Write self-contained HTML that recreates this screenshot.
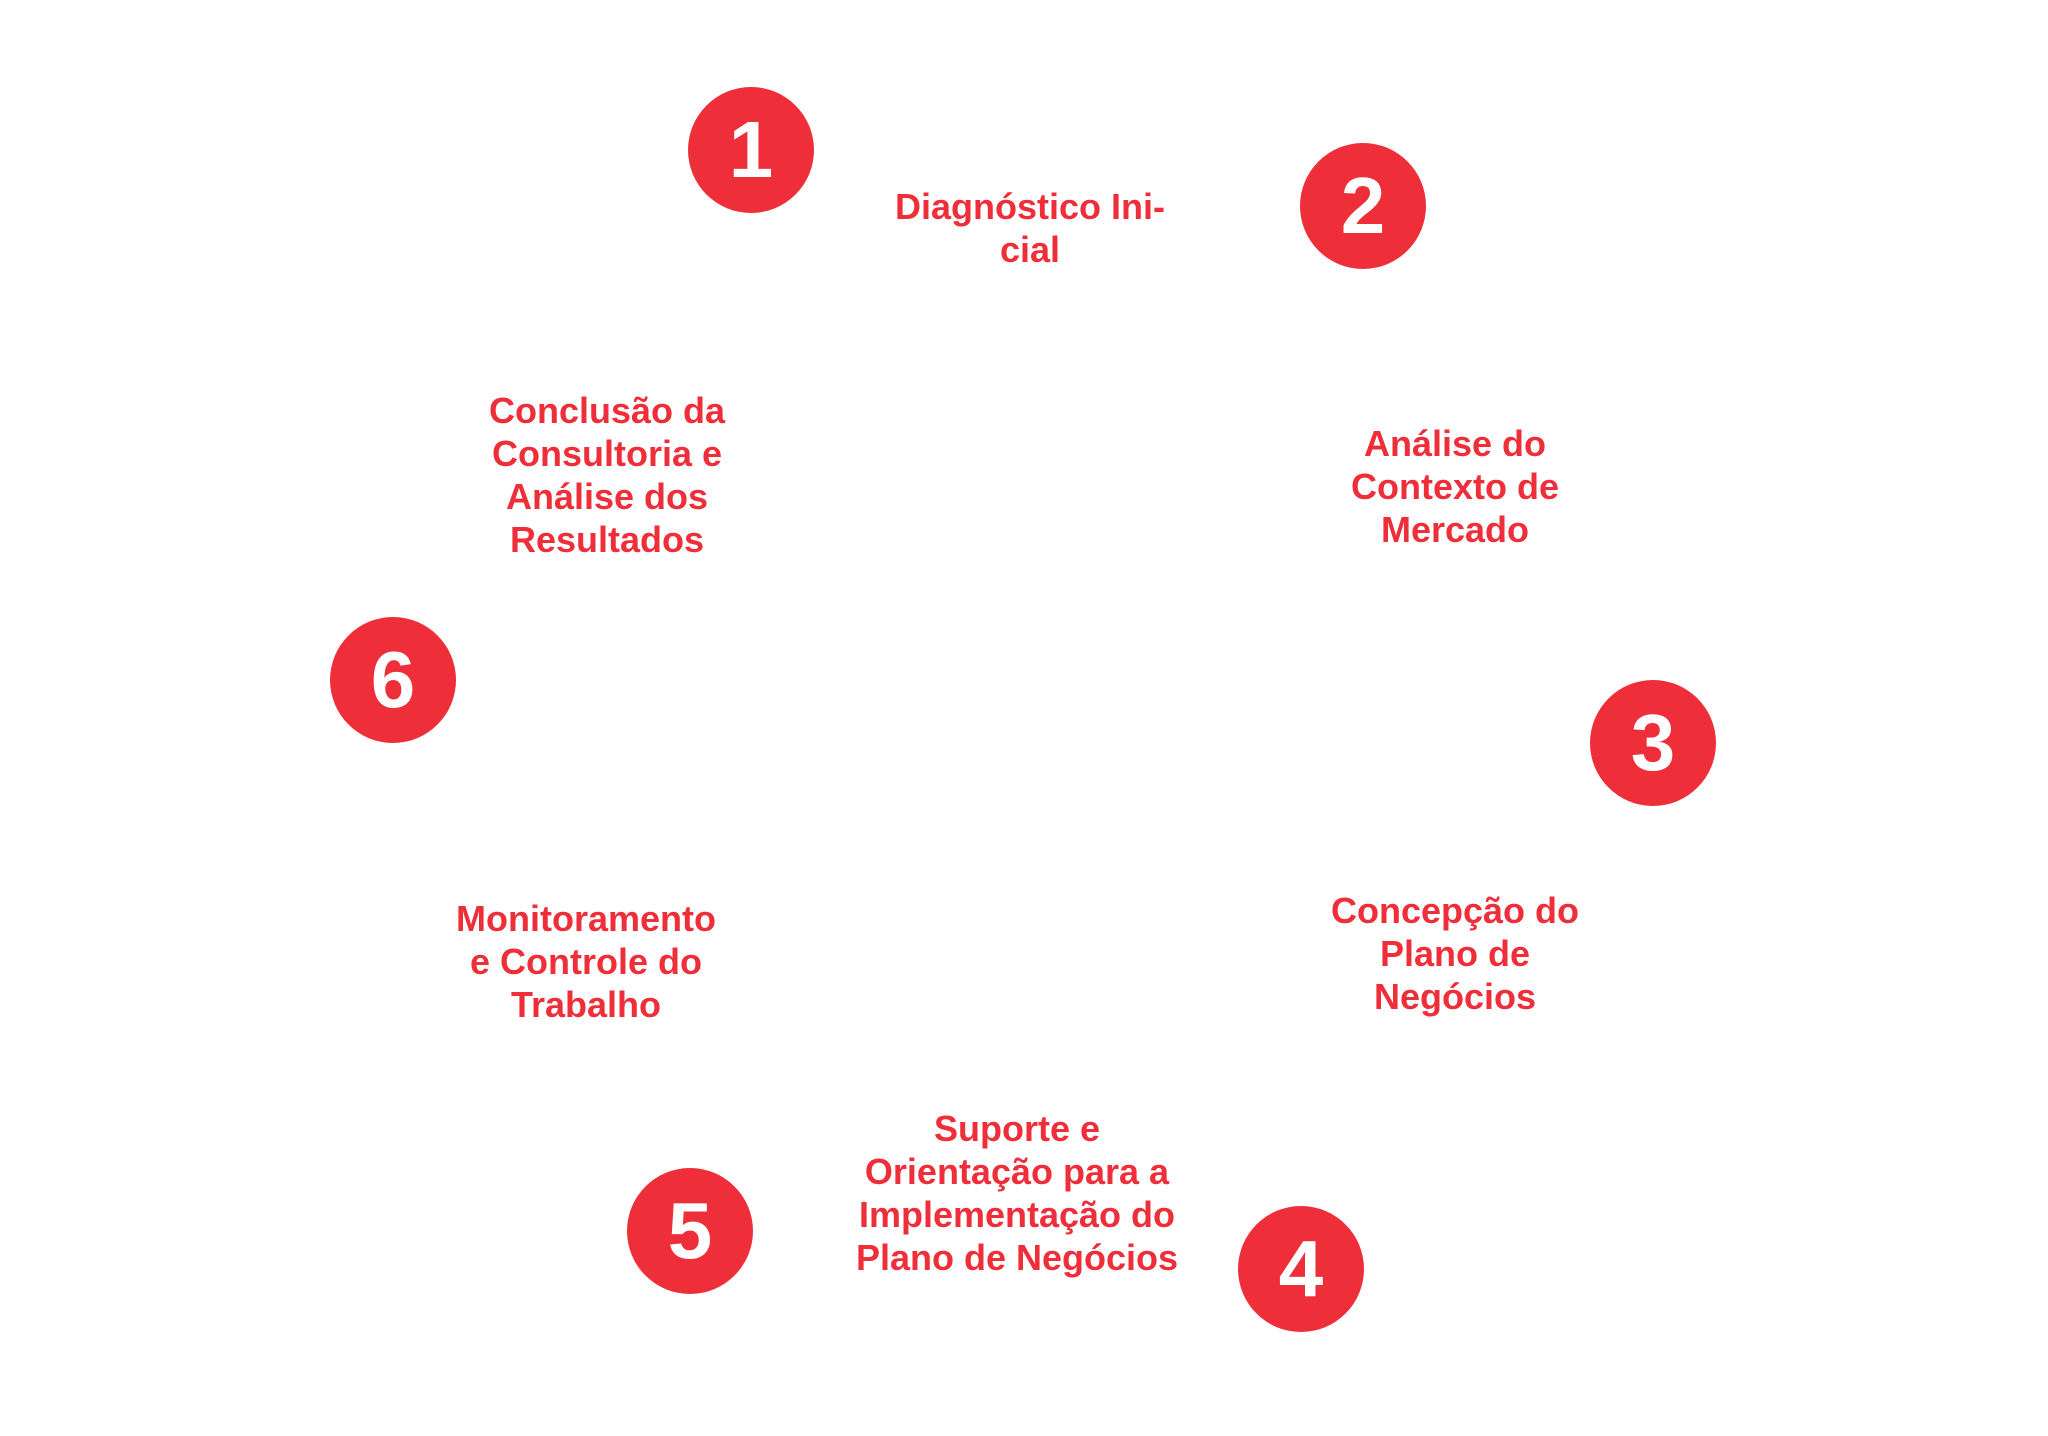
<!DOCTYPE html>
<html><head><meta charset="utf-8"><style>
html,body{margin:0;padding:0;background:#fff;}
body{width:2048px;height:1436px;position:relative;overflow:hidden;font-family:"Liberation Sans",Arial,sans-serif;}
.c{position:absolute;width:126px;height:126px;border-radius:50%;background:#ee2e39;color:#fff;font-weight:bold;font-size:80px;line-height:126px;text-align:center;}
.t{position:absolute;width:440px;text-align:center;color:#ee2e39;font-weight:bold;font-size:36px;line-height:43px;}
</style></head><body>
<div class="c" style="left:688px;top:87px">1</div>
<div class="c" style="left:1300px;top:143px">2</div>
<div class="c" style="left:1590px;top:680px">3</div>
<div class="c" style="left:1238px;top:1206px">4</div>
<div class="c" style="left:627px;top:1168px">5</div>
<div class="c" style="left:330px;top:617px">6</div>
<div class="t" style="left:810px;top:185px">Diagnóstico Ini-<br>cial</div>
<div class="t" style="left:1235px;top:422px">Análise do<br>Contexto de<br>Mercado</div>
<div class="t" style="left:1235px;top:889px">Concepção do<br>Plano de<br>Negócios</div>
<div class="t" style="left:797px;top:1107px">Suporte e<br>Orientação para a<br>Implementação do<br>Plano de Negócios</div>
<div class="t" style="left:366px;top:897px">Monitoramento<br>e Controle do<br>Trabalho</div>
<div class="t" style="left:387px;top:389px">Conclusão da<br>Consultoria e<br>Análise dos<br>Resultados</div>
</body></html>
